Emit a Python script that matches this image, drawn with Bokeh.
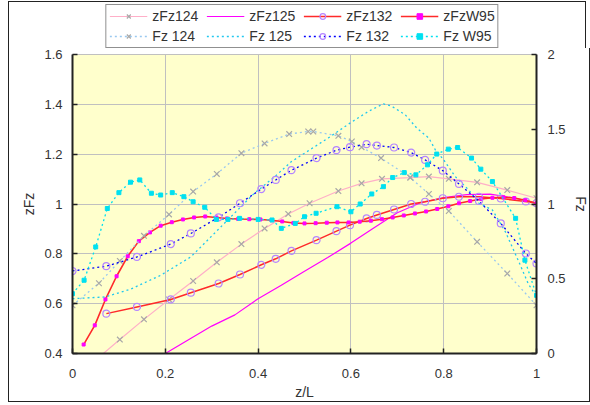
from bokeh.plotting import figure
from bokeh.layouts import column
from bokeh.models import (Range1d, LinearAxis, FixedTicker, CustomJSTickFormatter,
                          Legend, LegendItem)
from bokeh.embed import file_html
from bokeh.resources import INLINE

# ---------------- data ----------------
x_ticks = [0, 0.2, 0.4, 0.6, 0.8, 1]
x_tick_labels = ["0", "0.2", "0.4", "0.6", "0.8", "1"]
y_ticks = [0.4, 0.6, 0.8, 1, 1.2, 1.4, 1.6]
y_tick_labels = ["0.4", "0.6", "0.8", "1", "1.2", "1.4", "1.6"]
fz_ticks = [0, 0.5, 1, 1.5, 2]
fz_tick_labels = ["0", "0.5", "1", "1.5", "2"]

# zFz124 / Fz 124
x124 = [0.057, 0.102, 0.154, 0.208, 0.26, 0.311, 0.364, 0.414, 0.465, 0.511, 0.573,
        0.623, 0.667, 0.728, 0.768, 0.811, 0.872, 0.937, 1.0]
zfz124 = [0.385, 0.456, 0.537, 0.617, 0.691, 0.766, 0.839, 0.902, 0.96, 1.003, 1.052,
          1.083, 1.101, 1.106, 1.11, 1.101, 1.087, 1.056, 1.023]
x_fz124 = [0, 0.057, 0.102, 0.154, 0.208, 0.26, 0.311, 0.364, 0.414, 0.467, 0.508, 0.519,
           0.573, 0.602, 0.623, 0.665, 0.728, 0.768, 0.811, 0.872, 0.937, 1.0]
fz124 = [0.322, 0.47, 0.619, 0.787, 0.93, 1.083, 1.201, 1.34, 1.405, 1.468, 1.485, 1.485,
         1.456, 1.418, 1.38, 1.307, 1.177, 1.067, 0.953, 0.747, 0.535, 0.322]

# zFz125 / Fz 125
x125 = [0.15, 0.2, 0.25, 0.3, 0.35, 0.4, 0.45, 0.5, 0.55, 0.6, 0.65, 0.7, 0.75, 0.8,
        0.85, 0.9, 0.95, 1.0]
zfz125 = [0.39, 0.40, 0.455, 0.51, 0.555, 0.62, 0.674, 0.73, 0.785, 0.843, 0.905, 0.965,
          1.005, 1.026, 1.038, 1.04, 1.025, 1.003]
x_fz125 = [0, 0.07, 0.125, 0.19, 0.255, 0.313, 0.356, 0.392, 0.436, 0.472, 0.551, 0.598,
           0.638, 0.67, 0.688, 0.717, 0.742, 0.768, 0.782, 0.8, 0.825, 0.854, 0.876,
           0.905, 0.933, 0.962, 0.982, 1.0]
fz125 = [0.367, 0.378, 0.43, 0.523, 0.646, 0.826, 0.96, 1.072, 1.183, 1.284, 1.441, 1.541,
         1.62, 1.67, 1.654, 1.597, 1.508, 1.441, 1.362, 1.295, 1.183, 1.094, 1.005,
         0.96, 0.814, 0.613, 0.468, 0.38]

# zFz132 / Fz 132
x132 = [0.073, 0.139, 0.212, 0.255, 0.315, 0.361, 0.407, 0.438, 0.472, 0.526, 0.569,
        0.598, 0.634, 0.656, 0.693, 0.73, 0.76, 0.798, 0.833, 0.876, 0.923, 0.977, 1.0]
zfz132 = [0.56, 0.587, 0.617, 0.644, 0.681, 0.717, 0.756, 0.78, 0.812, 0.855, 0.891,
          0.915, 0.942, 0.956, 0.978, 1.0, 1.009, 1.023, 1.029, 1.029, 1.022, 1.01, 1.003]
x_fz132 = [0, 0.073, 0.139, 0.212, 0.255, 0.315, 0.361, 0.407, 0.438, 0.472, 0.526, 0.569,
           0.598, 0.634, 0.656, 0.693, 0.73, 0.76, 0.798, 0.833, 0.876, 0.923, 0.977, 1.0]
fz132 = [0.552, 0.584, 0.646, 0.732, 0.803, 0.911, 1.005, 1.1, 1.161, 1.226, 1.307, 1.36,
         1.38, 1.4, 1.391, 1.378, 1.344, 1.295, 1.223, 1.134, 1.02, 0.87, 0.669, 0.602]

# zFzW95 / Fz W95
xw95 = [0.024, 0.048, 0.071, 0.095, 0.119, 0.143, 0.167, 0.19, 0.214, 0.238, 0.262, 0.286,
        0.31, 0.333, 0.357, 0.381, 0.405, 0.429, 0.452, 0.476, 0.5, 0.524, 0.548, 0.571,
        0.595, 0.619, 0.643, 0.667, 0.69, 0.714, 0.738, 0.762, 0.786, 0.81, 0.833, 0.857,
        0.881, 0.905, 0.929, 0.952, 0.976, 1.0]
zfzw95 = [0.436, 0.513, 0.617, 0.71, 0.79, 0.851, 0.886, 0.913, 0.927, 0.938, 0.946, 0.95,
          0.946, 0.942, 0.94, 0.939, 0.938, 0.935, 0.93, 0.924, 0.922, 0.923, 0.925, 0.926,
          0.926, 0.929, 0.933, 0.939, 0.946, 0.954, 0.962, 0.97, 0.98, 0.991, 1.003, 1.012,
          1.02, 1.025, 1.027, 1.024, 1.015, 1.003]
x_fzw95 = [0, 0.025, 0.05, 0.075, 0.1, 0.125, 0.145, 0.17, 0.19, 0.215, 0.24, 0.26, 0.285,
           0.31, 0.335, 0.36, 0.4, 0.43, 0.45, 0.48, 0.5, 0.525, 0.57, 0.6, 0.62, 0.645,
           0.67, 0.69, 0.715, 0.74, 0.765, 0.785, 0.81, 0.83, 0.86, 0.88, 0.905, 0.955,
           0.975, 1.0]
fzw95 = [0.4, 0.49, 0.713, 0.97, 1.076, 1.146, 1.161, 1.072, 1.06, 1.076, 1.049, 1.015,
         0.978, 0.897, 0.897, 0.904, 0.897, 0.893, 0.837, 0.87, 0.915, 0.938, 0.982, 0.948,
         1.0, 1.067, 1.116, 1.177, 1.21, 1.195, 1.262, 1.334, 1.367, 1.378, 1.307, 1.233,
         1.15, 0.904, 0.624, 0.389]

# ---------------- figure ----------------
FONT = "Liberation Sans"
TXT = "#333333"
BORDER = "1px solid #222222"

p = figure(frame_width=462, frame_height=298, x_range=Range1d(0, 1),
           y_range=Range1d(0.4, 1.6), output_backend="svg", toolbar_location=None,
           min_border_left=63, min_border_right=53, min_border_top=6,
           min_border_bottom=49, background_fill_color="#FFFFCC",
           border_fill_color="white", outline_line_color="#C0C0C0")
p.extra_y_ranges = {"fz": Range1d(0, 2)}
p.styles = {"border-left": BORDER, "border-right": BORDER, "border-bottom": BORDER}

# strip above the plot that carries the legend (its ranges keep the sample
# renderers out of view, only their legend glyphs are shown)
lf = figure(width=578, height=47, x_range=Range1d(0, 1), y_range=Range1d(10, 11),
            output_backend="svg", toolbar_location=None, min_border=0,
            x_axis_type=None, y_axis_type=None, outline_line_color=None,
            background_fill_color="white", border_fill_color="white")
lf.grid.visible = False
lf.styles = {"border-left": BORDER, "border-right": BORDER, "border-top": BORDER}

def fmt(tick_vals, tick_labels):
    return CustomJSTickFormatter(args=dict(tv=tick_vals, tl=tick_labels), code="""
        for (let i = 0; i < tv.length; i++) {
            if (Math.abs(tv[i] - tick) < 1e-9) return tl[i];
        }
        return '';
    """)

def style_axis(ax, tick_vals, tick_labels, label):
    ax.ticker = FixedTicker(ticks=tick_vals)
    ax.formatter = fmt(tick_vals, tick_labels)
    ax.axis_label = label
    ax.axis_label_text_font = FONT
    ax.axis_label_text_font_size = "14px"
    ax.axis_label_text_font_style = "normal"
    ax.axis_label_text_color = TXT
    ax.major_label_text_font = FONT
    ax.major_label_text_font_size = "13px"
    ax.major_label_text_color = TXT
    ax.axis_line_color = "#222222"
    ax.axis_line_width = 2
    ax.major_tick_line_color = "#222222"
    ax.major_tick_line_width = 1.5
    ax.major_tick_in = 5
    ax.major_tick_out = 0
    ax.minor_tick_line_color = None

style_axis(p.xaxis[0], x_ticks, x_tick_labels, "z/L")
p.xaxis[0].major_label_standoff = 15
p.xaxis[0].axis_label_standoff = 3
style_axis(p.yaxis[0], y_ticks, y_tick_labels, "zFz")
p.yaxis[0].major_label_standoff = 10
p.yaxis[0].axis_label_standoff = 4

rax = LinearAxis(y_range_name="fz")
style_axis(rax, fz_ticks, fz_tick_labels, "Fz")
rax.major_label_standoff = 11
rax.axis_label_standoff = 4
p.add_layout(rax, "right")

p.xgrid.ticker = FixedTicker(ticks=x_ticks)
p.ygrid.ticker = FixedTicker(ticks=y_ticks)
for g in (p.xgrid[0], p.ygrid[0]):
    g.grid_line_color = "#C0C0C0"
    g.grid_line_width = 1

# colours
PINK = "#FFAFC8"
MAG = "#FF00FF"
RED = "#FF2A2A"
GREY = "#A8A8A8"
PURP = "#B585FF"
LBLUE = "#99C8F0"
CYAN1 = "#20C8F0"
BLUE = "#0000FF"
CYAN2 = "#00E0F0"
DOT = "2 3"

series = [
    # label, x, y, axis, line style, marker style
    ("zFz124", x124, zfz124, "default",
     dict(line_color=PINK, line_width=1.2),
     dict(marker="x", size=8, line_color=GREY, line_width=1.2)),
    ("zFz125", x125, zfz125, "default",
     dict(line_color=MAG, line_width=1.2), None),
    ("zFz132", x132, zfz132, "default",
     dict(line_color=RED, line_width=1.5),
     dict(marker="circle", size=7, line_color=PURP, fill_color=None, line_width=1.2)),
    ("zFzW95", xw95, zfzw95, "default",
     dict(line_color=RED, line_width=1.6),
     dict(marker="square", size=3, line_color=MAG, fill_color=MAG)),
    ("Fz 124", x_fz124, fz124, "fz",
     dict(line_color=LBLUE, line_width=1.3, line_dash=DOT),
     dict(marker="x", size=8, line_color=GREY, line_width=1.2)),
    ("Fz 125", x_fz125, fz125, "fz",
     dict(line_color=CYAN1, line_width=1.3, line_dash=DOT), None),
    ("Fz 132", x_fz132, fz132, "fz",
     dict(line_color=BLUE, line_width=1.3, line_dash=DOT),
     dict(marker="circle", size=7, line_color=PURP, fill_color=None, line_width=1.2)),
    ("Fz W95", x_fzw95, fzw95, "fz",
     dict(line_color=CYAN2, line_width=1.3, line_dash=DOT),
     dict(marker="square", size=4, line_color=CYAN2, fill_color=CYAN2)),
]

items = []
for label, xs, ys, rng, lstyle, mstyle in series:
    p.line(xs, ys, y_range_name=rng, **lstyle)
    if mstyle is not None:
        p.scatter(xs, ys, y_range_name=rng, **mstyle)
    rs = [lf.line(xs, ys, **lstyle)]
    if mstyle is not None:
        rs.append(lf.scatter(xs, ys, **mstyle))
    items.append(LegendItem(label=label, renderers=rs))

legend = Legend(items=items, location="center", orientation="horizontal", ncols=4,
                glyph_width=38, glyph_height=14, label_height=14, label_width=50,
                label_standoff=5, spacing=4, padding=3, margin=0,
                label_text_font=FONT, label_text_font_size="14px",
                label_text_color=TXT, border_line_color="#222222", border_line_width=1.5,
                background_fill_color="white", background_fill_alpha=1.0)
lf.add_layout(legend, "center")

layout = column(lf, p, spacing=0)
layout.styles = {"margin-left": "8px", "margin-top": "1px"}

open("out.html", "w").write(file_html(layout, INLINE))
